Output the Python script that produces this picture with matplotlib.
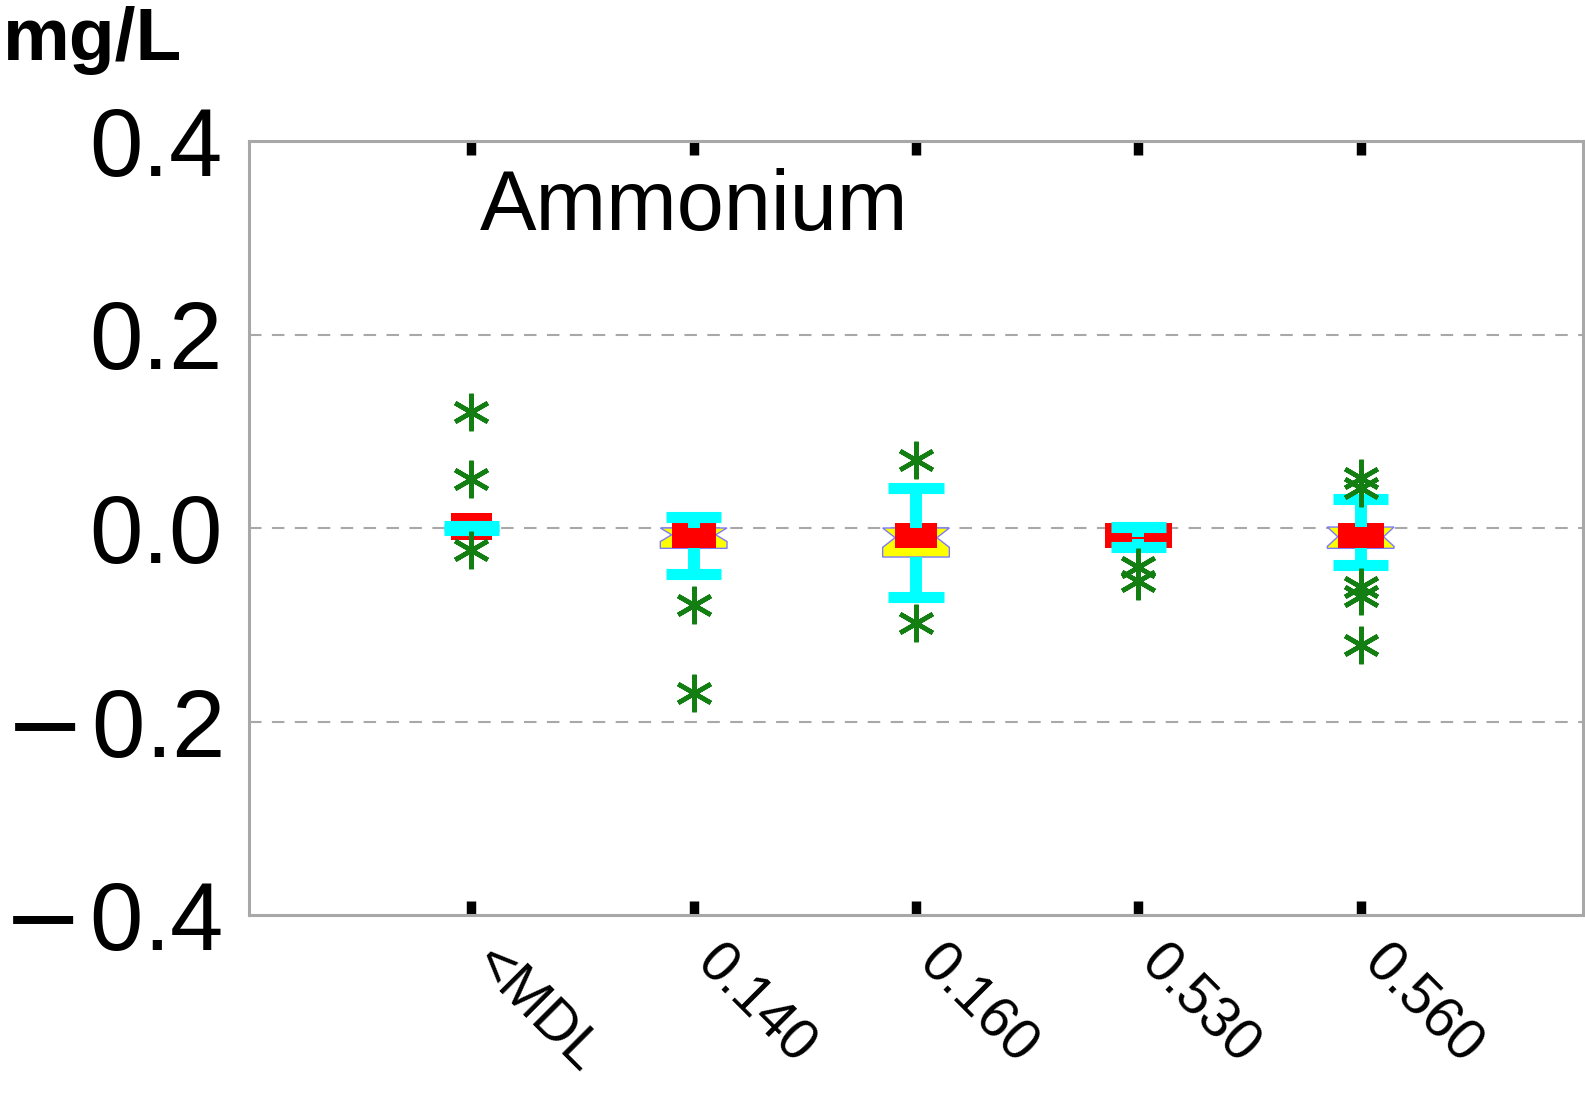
import matplotlib
matplotlib.use("Agg")
import matplotlib.pyplot as plt
import numpy as np
from matplotlib.patches import Polygon, Rectangle
from matplotlib.transforms import ScaledTranslation

plt.rcParams['font.family'] = ['Liberation Sans', 'DejaVu Sans']
plt.rcParams['mathtext.fontset'] = 'dejavusans'   # wide minus on the y labels

# data (mg/L)
categories = ["<MDL", "0.140", "0.160", "0.530", "0.560"]
whisker_hi = [0.002, 0.011, 0.041, 0.001, 0.030]
whisker_lo = [-0.002, -0.048, -0.071, -0.020, -0.038]
q3 = [0.0, 0.0, 0.0, -0.009, 0.001]
q1 = [0.0, -0.021, -0.030, -0.011, -0.021]
median = [np.nan, -0.007, -0.010, np.nan, -0.009]
red_top = [0.015, 0.005, 0.005, 0.005, 0.005]
red_bottom = [-0.012, -0.021, -0.021, -0.021, -0.021]
outliers = [
    [0.120, 0.051, -0.023],
    [-0.080, -0.171],
    [0.070, -0.098],
    [-0.040, -0.055],
    [0.052, 0.041, -0.061, -0.070, -0.121],
]
y_ticks = [-0.4, -0.2, 0.0, 0.2, 0.4]
y_labels = [r"$-\hspace{0.08}$0.4", r"$-\hspace{0.08}$0.2", "0.0", "0.2", "0.4"]

# styles
red_half = [0.093, 0.099, 0.094, 0.151, 0.103]
yellow_half = 0.15
cap_half = 0.124
cyan = "#00ffff"
green = "#137f13"

fig = plt.figure(figsize=(15.85, 11.10), dpi=100)
ax = fig.add_axes([249/1585, 1-915/1110, (1583-249)/1585, (915-141)/1110])

xs = np.arange(1, len(categories)+1)

for i, x in enumerate(xs):
    # yellow notched box
    if not np.isnan(median[i]):
        d = q3[i] - median[i]
        pts = [(x-yellow_half, q3[i]), (x+yellow_half, q3[i]),
               (x+red_half[i], median[i]), (x+yellow_half, median[i]-d),
               (x+yellow_half, q1[i]), (x-yellow_half, q1[i]),
               (x-yellow_half, median[i]-d), (x-red_half[i], median[i])]
        ax.add_patch(Polygon(pts, closed=True, facecolor="#ffff00",
                             edgecolor="#7a7aff", lw=1.0, zorder=3))
    # red box
    ax.add_patch(Rectangle((x-red_half[i], red_bottom[i]), 2*red_half[i],
                           red_top[i]-red_bottom[i], facecolor="#ff0000",
                           edgecolor="none", zorder=4))
    # cyan whiskers + caps
    ax.plot([x, x], [q3[i], whisker_hi[i]], color=cyan, lw=8.6,
            solid_capstyle="butt", zorder=5)
    ax.plot([x, x], [q1[i], whisker_lo[i]], color=cyan, lw=8.6,
            solid_capstyle="butt", zorder=5)
    for w in (whisker_hi[i], whisker_lo[i]):
        ax.plot([x-cap_half, x+cap_half], [w, w], color=cyan, lw=8.0,
                solid_capstyle="butt", zorder=5)
    # outliers
    ax.plot([x]*len(outliers[i]), outliers[i], ls="none", marker=(6, 2, 0),
            ms=27, mew=3.3, mec=green, mfc=green, zorder=6)

ax.set_xlim(0, 6)
ax.set_ylim(-0.4, 0.4)

for yg in (-0.2, 0.0, 0.2):
    ax.axhline(yg, color="#a8a8a8", lw=1.5, ls=(0, (6, 5)), zorder=1)

for sp in ax.spines.values():
    sp.set_color("#a8a8a8")
    sp.set_linewidth(2.2)

ax.set_xticks(xs)
ax.set_xticklabels([])
ax.tick_params(axis="x", direction="in", top=True, bottom=True,
               length=10, width=6.8, color="black")
ax.set_yticks(y_ticks)
ax.set_yticklabels(y_labels)
ax.tick_params(axis="y", length=0, pad=19, labelsize=69)

# rotated category labels
trans = ax.get_xaxis_transform() + ScaledTranslation(0, -51/100, fig.dpi_scale_trans)
for x, lab in zip(xs, categories):
    ax.text(x, 0, lab, transform=trans, rotation=-45, rotation_mode="anchor",
            ha="left", va="baseline", fontsize=41)

ax.text(1.04, 0.3075, "Ammonium", fontsize=61, va="baseline", ha="left")
fig.text(0.0015, 1-60/1110, "mg/L", fontsize=54, fontweight="bold",
         va="baseline", ha="left")

fig.savefig("out.png", dpi=100)
